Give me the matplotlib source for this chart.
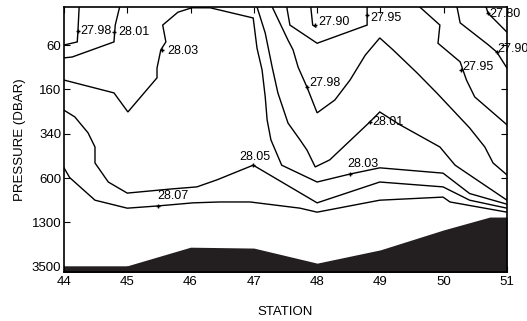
import numpy as np
import matplotlib
matplotlib.use("Agg")
import matplotlib.pyplot as plt

plt.rcParams['font.family'] = ['Liberation Sans', 'DejaVu Sans']

# axis: stations along x, y is the index of the standard pressure level
stations = [44, 45, 46, 47, 48, 49, 50, 51]
pressure_ticks = [1, 2, 3, 4, 5, 6]
pressure_labels = ['60', '160', '340', '600', '1300', '3500']

# isopycnals traced from the section (station, level index)
c2798_left_s = [44.24, 44.22, 44.21, 44.0]
c2798_left_p = [0.14, 0.70, 0.93, 1.0]

c2801_left_s = [44.88, 44.81, 44.79, 44.13, 44.0]
c2801_left_p = [0.14, 0.55, 0.93, 1.27, 1.29]

c2803_s = [44.0, 44.79, 45.01, 45.47, 45.47, 45.53, 45.61, 45.56, 45.80, 46.02, 46.31,
           46.99, 47.05, 47.13, 47.18, 47.21, 47.27, 47.44, 48.0, 48.52, 48.99, 49.99,
           50.41, 51.0]
c2803_p = [1.79, 2.08, 2.51, 1.74, 1.52, 1.11, 0.93, 0.55, 0.26, 0.16, 0.16,
           0.39, 1.07, 1.56, 2.17, 2.69, 3.14, 3.71, 4.09, 3.91, 3.77, 3.89,
           4.35, 4.59]

c2798_s = [47.29, 47.54, 47.62, 47.70, 47.84, 48.0, 48.28, 48.52, 48.76, 48.99, 49.20,
           49.58, 49.89, 50.41, 50.65, 50.78, 51.0]
c2798_p = [0.14, 0.89, 1.11, 1.50, 1.95, 2.53, 2.24, 1.79, 1.23, 0.84, 1.11,
           1.63, 2.08, 2.87, 3.30, 3.66, 3.93]

c2801_s = [47.05, 47.18, 47.29, 47.38, 47.54, 47.73, 47.84, 47.97, 48.20, 48.83, 48.99,
           49.31, 49.94, 50.18, 51.0]
c2801_p = [0.14, 0.73, 1.50, 2.08, 2.76, 3.14, 3.37, 3.75, 3.59, 2.74, 2.51,
           2.80, 3.30, 3.71, 4.50]

c2795_mid_s = [47.52, 47.57, 48.0, 48.79, 48.79]
c2795_mid_p = [0.14, 0.55, 0.96, 0.55, 0.14]

c2790_mid_s = [47.90, 47.93, 47.98]
c2790_mid_p = [0.14, 0.55, 0.59]

c2795_right_s = [49.62, 49.94, 49.91, 50.26, 50.36, 50.49, 51.0]
c2795_right_p = [0.14, 0.55, 0.96, 1.38, 1.79, 2.17, 2.80]

c2790_right_s = [50.21, 50.26, 50.70, 50.84, 51.0]
c2790_right_p = [0.14, 0.50, 0.99, 1.16, 1.52]

c2780_s = [50.67, 50.70, 51.0]
c2780_p = [0.14, 0.28, 0.71]

c2805_s = [44.0, 44.17, 44.38, 44.49, 44.49, 44.70, 45.0, 45.67, 46.10, 46.42, 46.99,
           48.0, 48.99, 49.99, 50.41, 51.0]
c2805_p = [2.47, 2.62, 2.98, 3.30, 3.66, 4.09, 4.34, 4.25, 4.20, 4.04, 3.71,
           4.56, 4.09, 4.20, 4.50, 4.68]

c2807_s = [44.0, 44.09, 44.49, 45.0, 45.48, 46.04, 46.46, 46.94, 47.73, 48.0, 48.99,
           49.99, 50.10, 51.0]
c2807_p = [3.77, 3.99, 4.50, 4.68, 4.63, 4.56, 4.54, 4.54, 4.68, 4.77, 4.50,
           4.43, 4.54, 4.77]

# bottom topography
bottom_s = [44, 45, 46, 47, 48, 49, 50, 50.73, 51]
bottom_p = [5.98, 5.98, 5.56, 5.58, 5.92, 5.62, 5.17, 4.88, 4.88]

# contour labels: text, station, level index
label_text = ['27.98', '28.01', '28.03', '27.90', '27.95', '27.98', '27.80', '27.90',
              '27.95', '28.01', '28.05', '28.03', '28.07']
label_s = [44.22, 44.79, 45.55, 47.97, 48.79, 47.84, 50.70, 50.84, 50.27, 48.83, 46.99, 48.52, 45.48]
label_p = [0.69, 0.71, 1.11, 0.55, 0.32, 1.95, 0.28, 1.16, 1.56, 2.74, 3.71, 3.91, 4.63]
# offsets in points (dx, dy) of the label text from its mark
label_off = [(2, 0), (3, 0), (4, -1), (2, 2), (2, -2), (2, 3), (1, -1), (0, 2),
             (1, 2), (2, 0), (-10, 6), (-2, 7), (0, 7)]

fig = plt.figure(figsize=(5.27, 3.21), dpi=100)
ax = fig.add_axes([0.1214, 0.1526, 0.8406, 0.8255])

lines = [(c2798_left_s, c2798_left_p), (c2801_left_s, c2801_left_p), (c2803_s, c2803_p),
         (c2798_s, c2798_p), (c2801_s, c2801_p), (c2795_mid_s, c2795_mid_p),
         (c2790_mid_s, c2790_mid_p), (c2795_right_s, c2795_right_p),
         (c2790_right_s, c2790_right_p), (c2780_s, c2780_p),
         (c2805_s, c2805_p), (c2807_s, c2807_p)]
for s, p in lines:
    ax.plot(s, p, color='black', lw=1.0, solid_joinstyle='miter')

ax.fill_between(bottom_s, bottom_p, 7, color='#231f20', lw=0, zorder=3)

for t, s, p, off in zip(label_text, label_s, label_p, label_off):
    ax.plot(s, p, marker='+', ms=3, color='black', mew=1)
    ax.annotate(t, (s, p), xytext=off, textcoords='offset points',
                ha='left', va='center', fontsize=9, annotation_clip=False)

ax.set_xlim(44, 51)
ax.set_ylim(6.12, 0.143)
ax.set_xticks(stations)
ax.set_yticks(pressure_ticks)
ax.set_yticklabels(pressure_labels)
ax.tick_params(direction='in', length=4, width=0.8, labelsize=9.5,
               top=True, right=True, pad=3)
ax.tick_params(axis='y', pad=2)
for sp in ax.spines.values():
    sp.set_linewidth(1.2)
    sp.set_zorder(5)

ax.set_xlabel('STATION', fontsize=9.5, labelpad=13)
ax.set_ylabel('PRESSURE (DBAR)', fontsize=9.5, labelpad=4)

fig.savefig('out.png', dpi=100)
